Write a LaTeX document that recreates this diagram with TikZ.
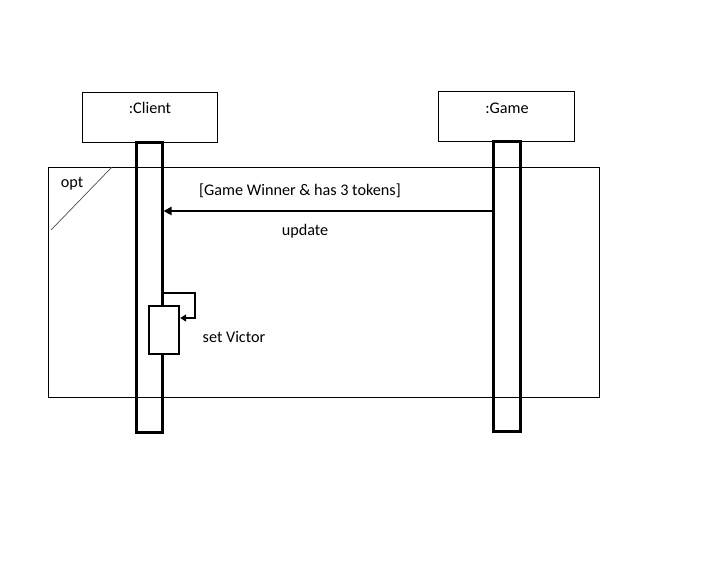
\documentclass[tikz,border=0pt]{standalone}
\usepackage{fontspec}
\setmainfont{Carlito}
\usetikzlibrary{arrows.meta}
\begin{document}
\begin{tikzpicture}[x=1pt,y=-1pt,
  lbl/.style={font=\fontsize{16.2}{18}\selectfont, inner sep=0pt, anchor=center},
  objbox/.style={draw, line width=1pt},
  actbox/.style={draw, line width=3pt},
  msg/.style={line width=2.4pt, -{Triangle[length=8pt,width=8pt]}}]
\useasboundingbox (0,0) rectangle (727,562);
% frame
\draw[line width=1pt] (48,167) rectangle (599,397);
\draw[line width=0.7pt, black!70] (112,167) -- (51,230);
\node[lbl] (opt) at (72,184) {opt};
% object boxes
\draw[objbox] (82,92) rectangle (217,142);
\node[lbl] (client) at (150,108) {:Client};
\draw[objbox] (438,91) rectangle (574,141);
\node[lbl] (game) at (507,108) {:Game};
% activations
\node[actbox, minimum width=26pt, minimum height=290pt, inner sep=0pt] (ca) at (149,287) {};
\node[actbox, minimum width=27pt, minimum height=290pt, inner sep=0pt] (ga) at (506.5,286) {};
\node[draw, fill=white, line width=2.4pt, minimum width=30pt, minimum height=48pt, inner sep=0pt] (sa) at (164,330) {};
% message
\coordinate (m1) at (ga.west |- 0,211);
\coordinate (m2) at (ca.east |- 0,211);
\draw[msg] (m1) -- (m2);
\node[lbl] (guard) at (300,191) {[Game Winner \& has 3 tokens]};
\node[lbl] (upd) at (305,231) {update};
% self message
\coordinate (s1) at (ca.east |- 0,293);
\coordinate (s2) at (195,293);
\coordinate (s3) at (195,318);
\coordinate (s4) at (sa.east |- 0,318);
\draw[line width=2.4pt, -{Triangle[length=6pt,width=7pt]}] (s1) -- (s2) -- (s3) -- (s4);
\node[lbl] (sv) at (234,337) {set Victor};
\end{tikzpicture}
\end{document}
